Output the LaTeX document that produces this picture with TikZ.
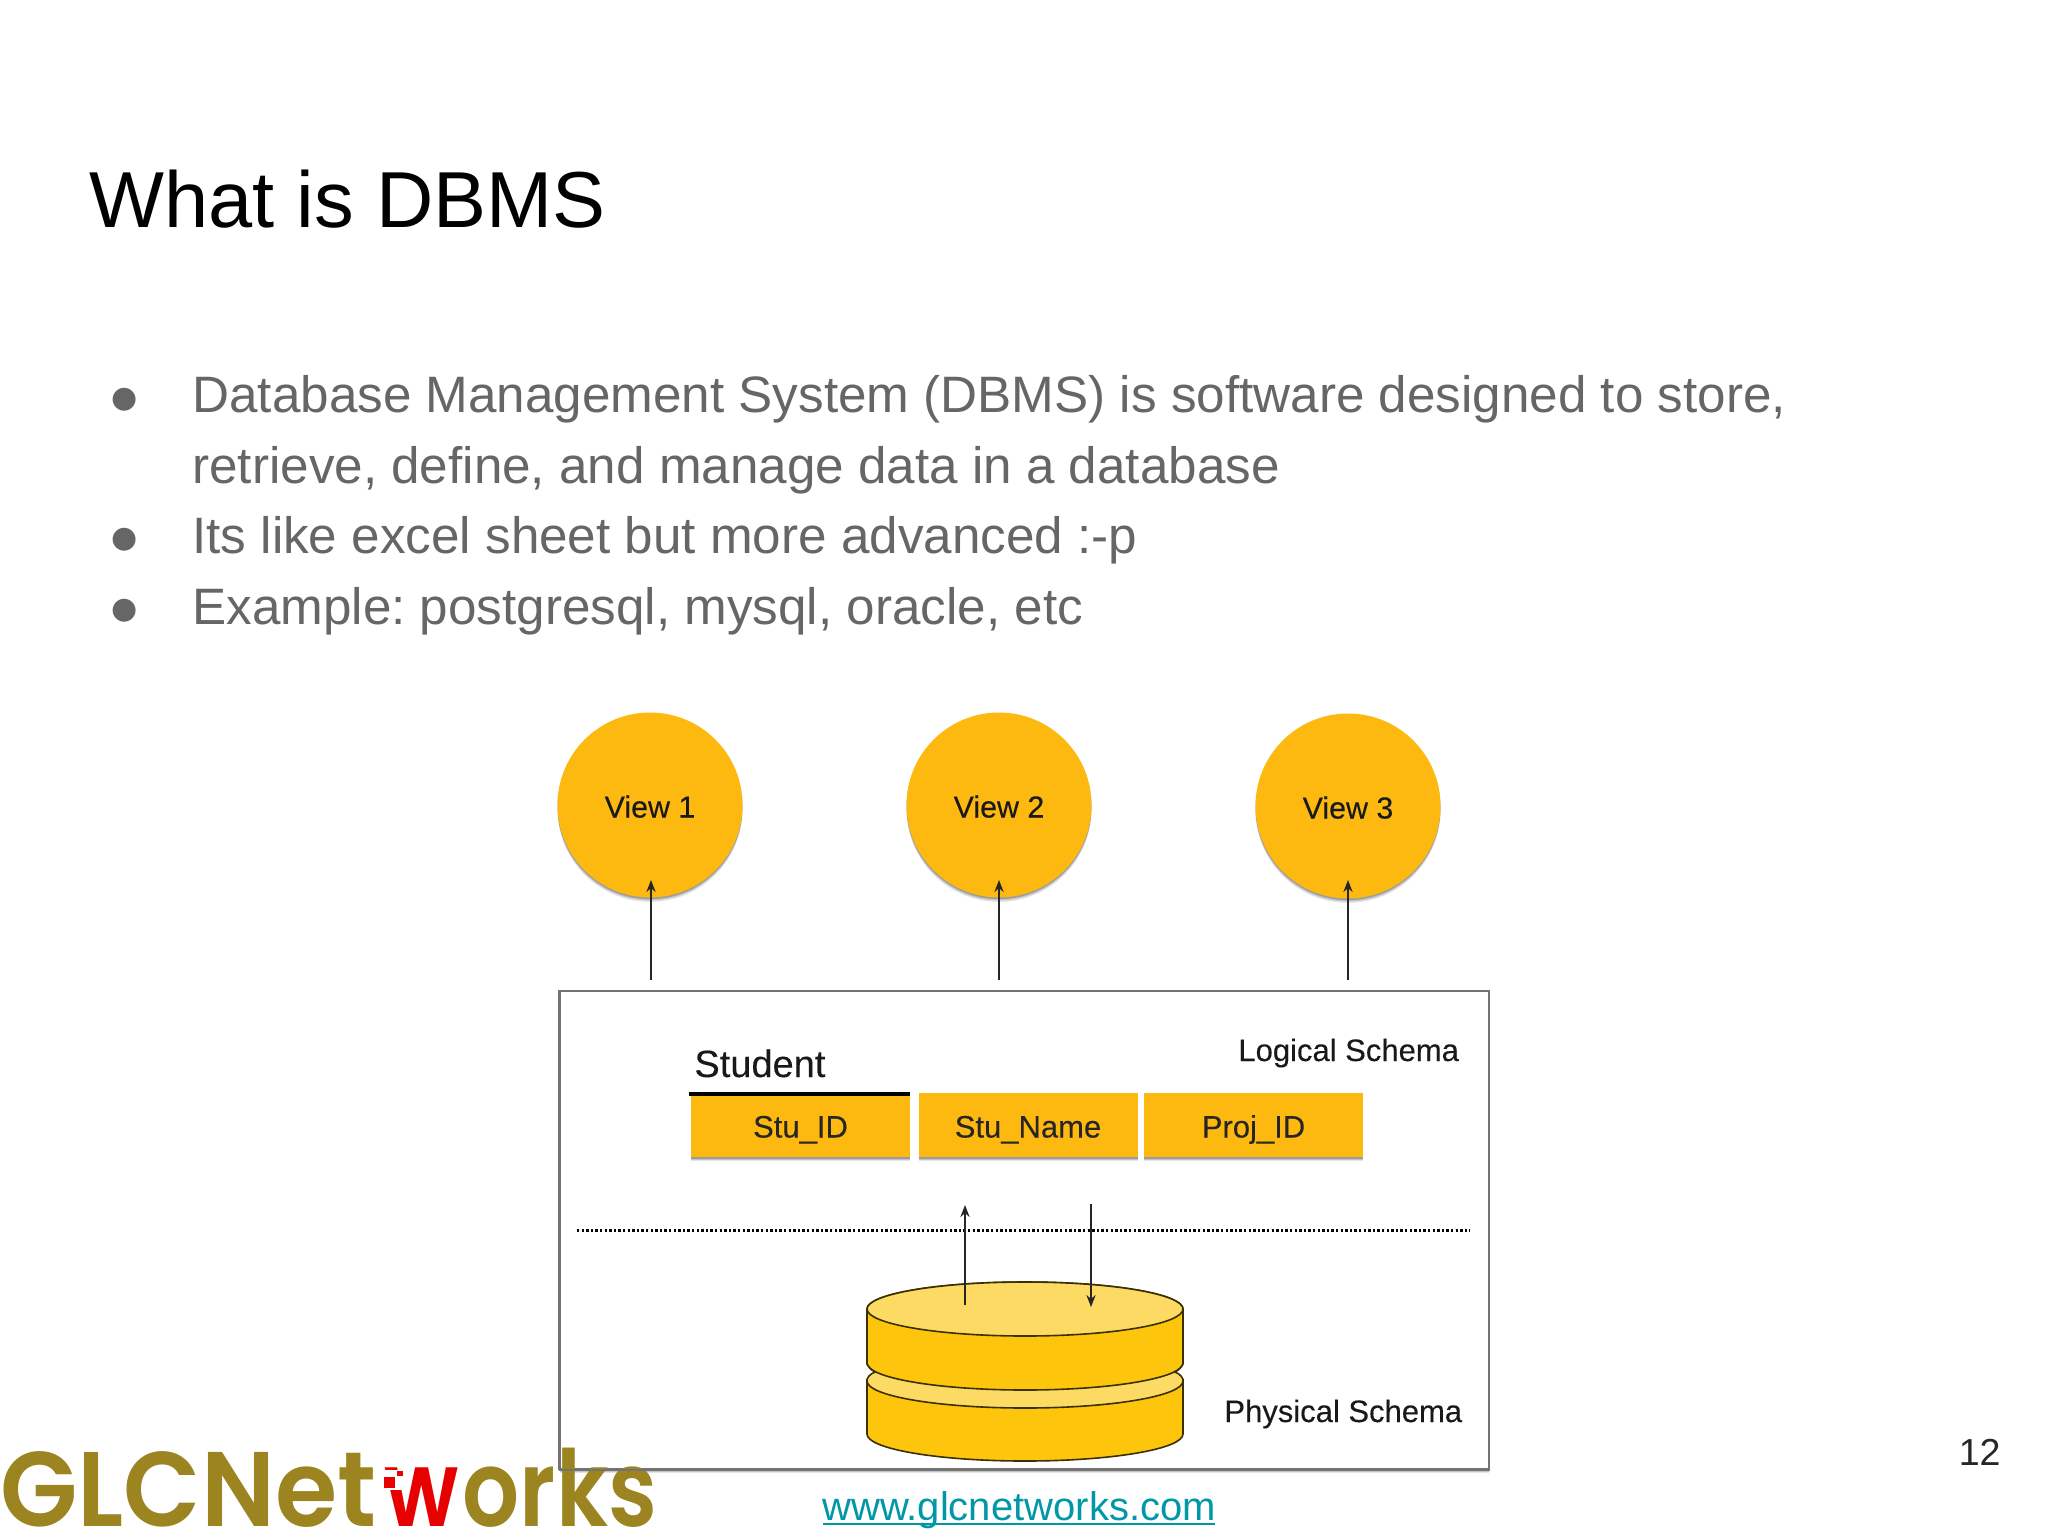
\documentclass[tikz,border=0pt]{standalone}
\usepackage{fontspec}
\setmainfont{Liberation Sans}
\newfontfamily\logofont{Poppins SemiBold}
\newfontfamily\dotfont{DejaVu Sans}
\newfontfamily\diagfont[FakeBold=0.2]{Liberation Sans}
\usetikzlibrary{arrows.meta,shadows}
\definecolor{amberfill}{HTML}{FDB90F}
\definecolor{cylside}{HTML}{FDC50C}
\definecolor{cyltop}{HTML}{FCDA63}
\definecolor{bodygray}{HTML}{666666}
\definecolor{linkteal}{HTML}{0097A7}
\definecolor{logogold}{HTML}{9C8420}
\definecolor{logored}{HTML}{E60000}
\definecolor{cyledge}{HTML}{3A3000}
\tikzset{
  x=0.5pt,y=-0.5pt,
  softshadow/.style={
    drop shadow={shadow xshift=0pt,shadow yshift=-2.2pt,opacity=.10,fill=black},
    drop shadow={shadow xshift=0pt,shadow yshift=-1.5pt,opacity=.14,fill=black},
    drop shadow={shadow xshift=0pt,shadow yshift=-0.8pt,opacity=.20,fill=black}},
  viewcircle/.style={circle,fill=amberfill,minimum size=92.5pt,inner sep=0pt,text height=12.5pt,text depth=0pt,font=\diagfont\fontsize{15.2}{18}\selectfont,text=black!90,softshadow},
  fieldbox/.style={rectangle,fill=amberfill,minimum width=109.5pt,minimum height=32pt,inner sep=0pt,text height=12.5pt,text depth=0pt,font=\diagfont\fontsize{15.5}{18}\selectfont,text=black!85,softshadow},
  titletext/.style={anchor=base west,inner sep=0pt,font=\fontsize{39.7}{46}\selectfont},
  bodytext/.style={anchor=base west,inner sep=0pt,text=bodygray,font=\fontsize{25.6}{30}\selectfont\frenchspacing},
  bulletmark/.style={anchor=base,inner sep=0pt,text=bodygray,font=\dotfont\fontsize{15}{18}\selectfont},
  schematext/.style={anchor=base west,inner sep=0pt,font=\diagfont\fontsize{15.5}{18}\selectfont,text=black!90},
  thinarrow/.style={line width=.8pt,black!85,-{Stealth[length=6pt,width=4.6pt]}},
  diskedge/.style={draw=cyledge,line width=.8pt},
}
\begin{document}
\begin{tikzpicture}
\useasboundingbox[fill=white] (0,0) rectangle (2048,1536);

% slide text
\node[titletext] (title) at (89,227) {What is DBMS};
\node[bulletmark] (b1) at (125,407) {●};
\node[bulletmark] (b2) at (125,547) {●};
\node[bulletmark] (b3) at (125,618) {●};
\node[bodytext] (l1) at (192,412) {Database Management System (DBMS) is software designed to store,};
\node[bodytext] (l2) at (192,483) {retrieve, define, and manage data in a database};
\node[bodytext] (l3) at (192,553) {Its like excel sheet but more advanced :-p};
\node[bodytext] (l4) at (192,624) {Example: postgresql, mysql, oracle, etc};

% schema frame
\node[rectangle,draw=black!55,line width=1.2pt,fill=white,minimum width=464.5pt,minimum height=239pt,inner sep=0pt,softshadow] (frame) at (1024.5,1230) {};

% views
\node[viewcircle] (v1) at (650,805) {View 1};
\node[viewcircle] (v2) at (999,805) {View 2};
\node[viewcircle] (v3) at (1348,806) {View 3};
\coordinate (s1) at (651,980);
\coordinate (s2) at (999,980);
\coordinate (s3) at (1348,980);
\coordinate (e1) at (651,880);
\coordinate (e2) at (999,880);
\coordinate (e3) at (1348,880);
\draw[thinarrow] (s1) -- (e1);
\draw[thinarrow] (s2) -- (e2);
\draw[thinarrow] (s3) -- (e3);

% logical schema
\node[schematext,font=\diagfont\fontsize{19}{22}\selectfont] (student) at (694,1077) {Student};
\node[schematext] (logical) at (1238,1061) {Logical Schema};
\node[fieldbox] (f1) at (800.5,1125) {Stu\_ID};
\node[fieldbox] (f2) at (1028,1125) {Stu\_Name};
\node[fieldbox] (f3) at (1253.5,1125) {Proj\_ID};
\coordinate (ruleA) at (689,1094);
\coordinate (ruleB) at (910,1094);
\draw[line width=1.6pt,black] (ruleA) -- (ruleB);

% dotted divider
\coordinate (dotA) at (577,1230);
\coordinate (dotB) at (1470,1230);
\draw[line width=1.5pt,black,dash pattern=on 1.2pt off 1.1pt] (dotA) -- (dotB);

% disk
\path[fill=cylside,diskedge] (867,1381) -- (867,1434) arc[start angle=180,end angle=0,x radius=158,y radius=27] -- (1183,1381) arc[start angle=0,end angle=-180,x radius=158,y radius=27] -- cycle;
\path[fill=cyltop,diskedge] (867,1381) arc[start angle=180,end angle=0,x radius=158,y radius=27] -- (1183,1363) -- (867,1363) -- cycle;
\path[fill=cylside,diskedge] (867,1309) -- (867,1363) arc[start angle=180,end angle=0,x radius=158,y radius=27] -- (1183,1309) arc[start angle=0,end angle=-180,x radius=158,y radius=27] -- cycle;
\path[fill=cyltop,diskedge] (1025,1309) ellipse[x radius=158,y radius=27];
% notches between the two discs
\path[fill=white,diskedge] (866,1362) .. controls (868,1367) and (871,1370) .. (875,1372) .. controls (870,1374) and (867,1377) .. (866,1383);
\path[fill=white,diskedge] (1184,1362) .. controls (1182,1367) and (1179,1370) .. (1175,1372) .. controls (1180,1374) and (1183,1377) .. (1184,1383);
\path[fill=white] (864,1360) rectangle (866,1385);
\path[fill=white] (1184,1360) rectangle (1186,1385);
\node[schematext] (physical) at (1224,1422) {Physical Schema};

% arrows to and from disk
\coordinate (upA) at (965,1305);
\coordinate (upB) at (965,1205);
\coordinate (downA) at (1091,1204);
\coordinate (downB) at (1091,1307);
\draw[thinarrow] (upA) -- (upB);
\draw[thinarrow] (downA) -- (downB);

% logo
\node[anchor=base west,inner sep=0pt,font=\logofont\fontsize{53}{60}\selectfont,text=logogold] (logo) at (0,1526) {\scalebox{.95}[1]{GLCNet}\hspace{4pt}\scalebox{.83}[1]{\textcolor{logored}{w}}\hspace{2pt}\scalebox{.845}[1]{orks}};
\path[fill=white] (378,1470) rectangle (405,1490);
\path[fill=logored] (384,1477) rectangle (395,1488);
\path[fill=logored] (397,1471) rectangle (403,1476);
\draw[black!55,line width=1.2pt] (frame.south west) -- (frame.south east);
\draw[black!55,line width=1.2pt] (frame.south west) -- (frame.north west);

% footer
\node[anchor=base,inner sep=0pt,text=linkteal,font=\fontsize{20}{24}\selectfont] (url) at (1019,1520) {www.glcnetworks.com};
\coordinate (urlA) at (823,1524);
\coordinate (urlB) at (1215,1524);
\draw[linkteal,line width=1.1pt] (urlA) -- (urlB);
\node[anchor=base east,inner sep=0pt,font=\fontsize{18.8}{22}\selectfont,text=black!85] (page) at (2001,1465) {12};
\end{tikzpicture}
\end{document}
